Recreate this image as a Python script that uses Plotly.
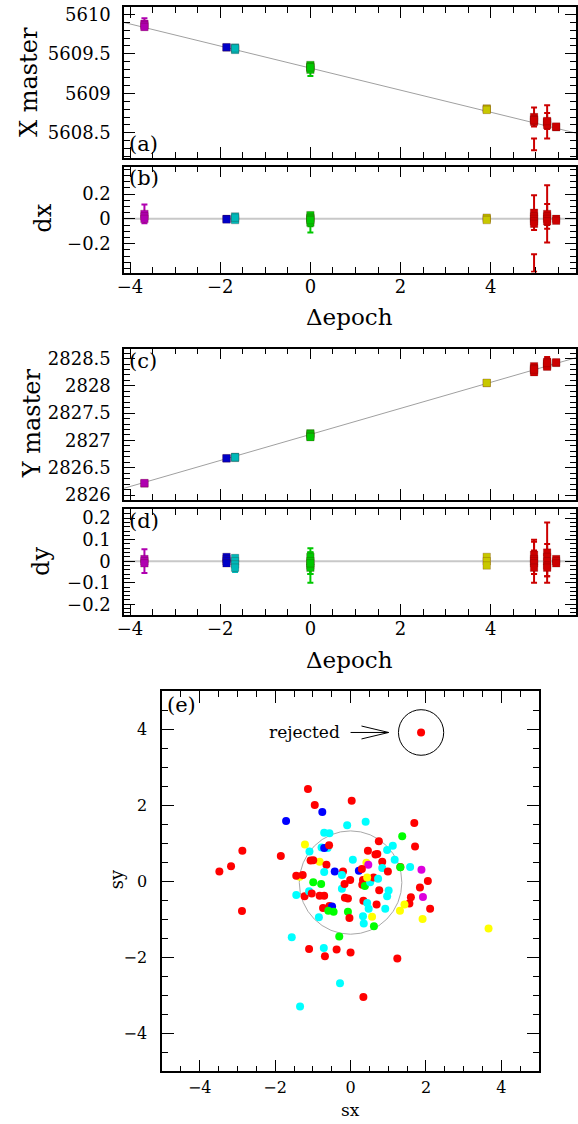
import plotly.graph_objects as go

W, H = 578, 1124
FONT = "DejaVu Serif"

# ---------------- data: panels (a)-(d) ----------------
group_color = ["mag", "blue", "cyan", "green", "yellow", "red", "red", "red"]
group_epoch = [-3.68, -1.86, -1.67, 0.0, 3.91, 4.96, 5.25, 5.45]

# (a) X master
a_val = [[5609.88, 5609.86, 5609.84],
         [5609.58, 5609.585],
         [5609.58, 5609.565, 5609.55, 5609.57],
         [5609.36, 5609.34, 5609.32, 5609.30, 5609.33],
         [5608.81, 5608.80, 5608.79],
         [5608.70, 5608.67, 5608.64, 5608.66],
         [5608.64, 5608.63, 5608.60, 5608.65],
         [5608.57, 5608.58]]
a_err = [[0.07, 0.03, 0.02],
         [0.01, 0.01],
         [0.015, 0.02, 0.015, 0.01],
         [0.02, 0.02, 0.03, 0.08, 0.04],
         [0.01, 0.015, 0.01],
         [0.12, 0.03, 0.03, 0.05],
         [0.21, 0.04, 0.03, 0.10],
         [0.01, 0.01]]
a_bar_epoch = [4.96]
a_bar_val = [5608.355]
a_bar_err = [0.075]
a_fit = (5609.32, -0.1397)   # intercept, slope

# (b) dx
b_val = [[0.04, 0.02, 0.0],
         [0.0, -0.005],
         [0.02, 0.0, -0.01, 0.01],
         [0.03, 0.01, 0.0, -0.03, -0.01],
         [0.01, 0.0, -0.01],
         [0.05, 0.02, 0.0, -0.02, -0.04],
         [0.04, 0.02, 0.0, -0.02],
         [0.0, -0.015]]
b_err = [[0.075, 0.02, 0.02],
         [0.01, 0.01],
         [0.015, 0.02, 0.01, 0.01],
         [0.015, 0.02, 0.02, 0.08, 0.05],
         [0.01, 0.015, 0.01],
         [0.14, 0.04, 0.03, 0.02, 0.02],
         [0.23, 0.10, 0.05, 0.02],
         [0.01, 0.01]]
b_bar_epoch = [4.96]
b_bar_val = [-0.355]
b_bar_err = [0.07]

# (c) Y master
c_val = [[2826.21, 2826.22],
         [2826.67, 2826.675],
         [2826.70, 2826.68, 2826.69],
         [2827.13, 2827.11, 2827.08, 2827.06],
         [2828.05, 2828.055],
         [2828.36, 2828.32, 2828.28, 2828.25, 2828.30],
         [2828.44, 2828.40, 2828.37, 2828.35, 2828.42],
         [2828.42, 2828.43]]
c_err = [[0.01, 0.015],
         [0.01, 0.01],
         [0.01, 0.015, 0.01],
         [0.02, 0.03, 0.03, 0.02],
         [0.01, 0.01],
         [0.03, 0.04, 0.04, 0.03, 0.05],
         [0.09, 0.03, 0.03, 0.03, 0.05],
         [0.01, 0.01]]
c_fit = (2827.11, 0.2386)

# (d) dy
d_val = [[0.01, 0.0, -0.01],
         [0.02, 0.01, 0.0, -0.01],
         [0.015, 0.0, -0.015, -0.03],
         [0.02, 0.0, -0.02, -0.03, -0.01],
         [0.02, 0.0, -0.02],
         [0.03, 0.01, 0.0, -0.01, -0.03],
         [0.04, 0.02, 0.0, -0.02, -0.03],
         [0.01, 0.0, -0.01]]
d_err = [[0.01, 0.055, 0.01],
         [0.01, 0.01, 0.01, 0.01],
         [0.01, 0.01, 0.02, 0.02],
         [0.02, 0.04, 0.08, 0.03, 0.05],
         [0.01, 0.01, 0.01],
         [0.06, 0.04, 0.10, 0.05, 0.03],
         [0.14, 0.06, 0.04, 0.05, 0.04],
         [0.01, 0.015, 0.01]]

# ---------------- data: panel (e) ----------------
e_sx = [-0.95, 0.03, -0.75, -1.71, -0.09, 0.40, 1.69, -0.70, -0.56, 1.37,
        -2.87, -1.85, -3.17, -3.48, -2.88, -1.21, -1.09, -0.77, -0.61, -0.70,
        -0.57, 0.75, 0.46, 0.66, 0.71, 0.97, 1.12, 1.71, 1.17, 0.84,
        0.42, 0.47, 0.06, -0.82, -1.06, -0.99, -0.64, -0.70, -0.42, -0.20,
        -0.23, 0.22, 0.30, 0.84, 0.99, 1.32, 1.32, 1.58, 1.88, 2.05,
        1.84, 1.92, 1.60, 1.56, 2.11, 1.43, 1.31, 1.91, -1.35, -1.44,
        -1.27, -0.99, -0.78, -1.44, -1.22, -1.10, -1.03, -0.82, -0.70, -0.23,
        -0.16, -0.01, 0.33, 0.31, 0.38, 0.52, 0.61, 0.73, 0.44, 0.76,
        1.01, 0.97, -0.15, -0.07, 0.34, 0.44, 0.48, 0.69, 0.92, -0.73,
        -0.56, -0.49, -0.59, -0.45, -0.07, -0.03, -0.84, 0.33, 0.35, 0.57,
        0.62, -0.30, -1.56, -0.71, -1.10, -0.37, 0.00, -0.68, 1.24, -1.13,
        -0.28, 0.34, -1.34, 3.66]
e_sy = [2.01, 2.12, 1.83, 1.59, 1.48, 1.57, 1.54, 1.28, 1.27, 1.19,
        0.81, 0.67, 0.40, 0.26, -0.78, 0.97, 0.79, 0.89, 0.88, 0.88,
        0.95, 1.06, 0.81, 0.71, 0.72, 0.83, 0.94, 0.92, 0.57, 0.52,
        0.49, 0.44, 0.57, 0.52, 0.55, 0.56, 0.44, 0.25, 0.26, 0.26,
        0.17, 0.28, 0.33, 0.35, 0.26, 0.38, 0.37, 0.38, 0.31, 0.01,
        -0.16, -0.41, -0.42, -0.58, -0.72, -0.61, -0.77, -0.99, 0.12, 0.15,
        0.17, -0.02, -0.07, -0.36, -0.39, -0.26, -0.32, -0.38, -0.38, -0.19,
        -0.07, 0.04, 0.04, -0.09, -0.12, -0.02, 0.10, 0.07, 0.10, -0.23,
        -0.24, -0.39, -0.43, -0.45, -0.51, -0.57, -0.72, -0.61, -0.72, -0.70,
        -0.65, -0.66, -0.77, -0.80, -0.80, -0.96, -0.94, -0.92, -1.11, -0.93,
        -1.18, -1.45, -1.47, -1.75, -1.78, -1.79, -1.87, -1.97, -2.03, 2.43,
        -2.68, -3.04, -3.29, -1.24]
e_col = ["red", "red", "blue", "blue", "cyan", "cyan", "red", "cyan", "cyan", "green",
         "red", "red", "red", "red", "red", "yellow", "cyan", "cyan", "cyan", "blue",
         "red", "red", "red", "red", "red", "cyan", "cyan", "red", "cyan", "red",
         "yellow", "mag", "cyan", "yellow", "red", "red", "red", "cyan", "blue", "red",
         "cyan", "blue", "red", "cyan", "red", "red", "green", "cyan", "mag", "red",
         "red", "mag", "red", "red", "red", "yellow", "yellow", "yellow", "yellow", "red",
         "red", "green", "green", "cyan", "red", "cyan", "red", "red", "red", "cyan",
         "red", "red", "red", "red", "green", "cyan", "red", "cyan", "yellow", "red",
         "cyan", "cyan", "red", "red", "red", "cyan", "cyan", "red", "cyan", "red",
         "red", "blue", "green", "green", "green", "red", "cyan", "cyan", "cyan", "yellow",
         "green", "green", "cyan", "cyan", "red", "red", "red", "red", "red", "red",
         "cyan", "red", "cyan", "yellow"]
rejected_sx = [1.87]
rejected_sy = [3.92]
clip_center = (0.0, -0.03)
clip_radius = 1.36
reject_radius = 0.6

COL_DARK = {"mag": "#b000b0", "blue": "#0000c8", "cyan": "#00b8b8",
            "green": "#00c800", "yellow": "#c8c800", "red": "#cc0000"}
COL_E = {"red": "#ff0000", "cyan": "#00ffff", "green": "#00ff00",
         "yellow": "#ffff00", "blue": "#0000ff", "mag": "#dd00dd"}

# ---------------- layout helpers ----------------
def ydom(top_px, bot_px):
    return [1 - bot_px / H, 1 - top_px / H]

def px_x(p):
    return p / W

def px_y(p):
    return 1 - p / H

XR = [-4.13, 5.89]

fig = go.Figure()

def add_panel(vals, errs, xa, ya):
    for g, (col, ep) in enumerate(zip(group_color, group_epoch)):
        fig.add_trace(go.Scatter(
            x=[ep] * len(vals[g]), y=vals[g], mode="markers",
            marker=dict(symbol="square", size=7.5, color=COL_DARK[col],
                        line=dict(width=0.6, color="rgba(80,0,0,0.35)")),
            error_y=dict(type="data", array=errs[g], color=COL_DARK[col],
                         thickness=2, width=3),
            xaxis=xa, yaxis=ya, showlegend=False, hoverinfo="skip"))

def add_bar(ep, val, err, xa, ya):
    fig.add_trace(go.Scatter(
        x=ep, y=val, mode="markers",
        marker=dict(size=2, color="rgba(0,0,0,0)"),
        error_y=dict(type="data", array=err, color=COL_DARK["red"],
                     thickness=2, width=3),
        xaxis=xa, yaxis=ya, showlegend=False, hoverinfo="skip"))

# fit lines
fig.add_trace(go.Scatter(x=XR, y=[a_fit[0] + a_fit[1] * XR[0], a_fit[0] + a_fit[1] * XR[1]],
                         mode="lines", line=dict(color="#a0a0a0", width=1),
                         xaxis="x", yaxis="y", showlegend=False, hoverinfo="skip"))
fig.add_trace(go.Scatter(x=XR, y=[0, 0], mode="lines", line=dict(color="#c8c8c8", width=2),
                         xaxis="x2", yaxis="y2", showlegend=False, hoverinfo="skip"))
fig.add_trace(go.Scatter(x=XR, y=[c_fit[0] + c_fit[1] * XR[0], c_fit[0] + c_fit[1] * XR[1]],
                         mode="lines", line=dict(color="#a0a0a0", width=1),
                         xaxis="x3", yaxis="y3", showlegend=False, hoverinfo="skip"))
fig.add_trace(go.Scatter(x=XR, y=[0, 0], mode="lines", line=dict(color="#c8c8c8", width=2),
                         xaxis="x4", yaxis="y4", showlegend=False, hoverinfo="skip"))

add_panel(a_val, a_err, "x", "y")
add_bar(a_bar_epoch, a_bar_val, a_bar_err, "x", "y")
add_panel(b_val, b_err, "x2", "y2")
add_bar(b_bar_epoch, b_bar_val, b_bar_err, "x2", "y2")
add_panel(c_val, c_err, "x3", "y3")
add_panel(d_val, d_err, "x4", "y4")

# panel e points
fig.add_trace(go.Scatter(x=e_sx, y=e_sy, mode="markers",
                         marker=dict(size=8, color=[COL_E[c] for c in e_col], line=dict(width=0)),
                         xaxis="x5", yaxis="y5", showlegend=False, hoverinfo="skip"))
fig.add_trace(go.Scatter(x=rejected_sx, y=rejected_sy, mode="markers",
                         marker=dict(size=8, color=COL_E["red"], line=dict(width=0)),
                         xaxis="x5", yaxis="y5", showlegend=False, hoverinfo="skip"))

def axis_style(**kw):
    d = dict(showline=True, linecolor="black", linewidth=1.5, mirror="allticks",
             ticks="inside", ticklen=11, tickwidth=1.2, tickcolor="black",
             showgrid=False, zeroline=False, ticklabelstandoff=8,
             tickfont=dict(family=FONT, size=18, color="black"))
    d.update(kw)
    return d

xdom = [px_x(119), 1.0]
minor_x = dict(ticks="inside", ticklen=6, tickwidth=1, tickcolor="black", dtick=0.5, tick0=0)

layout = dict(
    width=W, height=H, margin=dict(l=0, r=0, t=0, b=0),
    paper_bgcolor="white", plot_bgcolor="white", showlegend=False,
    xaxis=axis_style(domain=xdom, range=XR, anchor="y", dtick=2, tick0=0,
                     showticklabels=False, minor=minor_x),
    yaxis=axis_style(domain=ydom(3.3, 155), range=[5608.185, 5610.09], anchor="x",
                     dtick=0.5, tick0=0, tickformat=".1~f",
                     minor=dict(ticks="inside", ticklen=6, tickwidth=1, tickcolor="black", dtick=0.1, tick0=0)),
    xaxis2=axis_style(domain=xdom, range=XR, anchor="y2", dtick=2, tick0=0, minor=minor_x,
                      ticklabelstandoff=-3),
    yaxis2=axis_style(domain=ydom(164, 270.7), range=[-0.432, 0.42], anchor="x2",
                      tickvals=[-0.2, 0, 0.2],
                      minor=dict(ticks="inside", ticklen=6, tickwidth=1, tickcolor="black", dtick=0.05, tick0=0)),
    xaxis3=axis_style(domain=xdom, range=XR, anchor="y3", dtick=2, tick0=0,
                      showticklabels=False, minor=minor_x),
    yaxis3=axis_style(domain=ydom(347.5, 500), range=[2825.909, 2828.68], anchor="x3",
                      dtick=0.5, tick0=0, tickformat=".1~f",
                      minor=dict(ticks="inside", ticklen=6, tickwidth=1, tickcolor="black", dtick=0.1, tick0=0)),
    xaxis4=axis_style(domain=xdom, range=XR, anchor="y4", dtick=2, tick0=0, minor=minor_x,
                      ticklabelstandoff=-3),
    yaxis4=axis_style(domain=ydom(509, 615.5), range=[-0.248, 0.243], anchor="x4",
                      dtick=0.1, tick0=0,
                      minor=dict(ticks="inside", ticklen=6, tickwidth=1, tickcolor="black", dtick=0.02, tick0=0)),
    xaxis5=axis_style(domain=[px_x(157.5), px_x(540.5)], range=[-5, 5], anchor="y5",
                      dtick=2, tick0=0, ticklen=12, ticklabelstandoff=1,
                      tickfont=dict(family=FONT, size=16, color="black"),
                      minor=dict(ticks="inside", ticklen=6, tickwidth=1, tickcolor="black", dtick=0.5, tick0=0)),
    yaxis5=axis_style(domain=ydom(693, 1076), range=[-5, 5], anchor="x5",
                      dtick=2, tick0=0, ticklen=12, ticklabelstandoff=10,
                      tickfont=dict(family=FONT, size=16, color="black"),
                      minor=dict(ticks="inside", ticklen=6, tickwidth=1, tickcolor="black", dtick=0.5, tick0=0)),
)
fig.update_layout(**layout)

# ---------------- text labels ----------------
def txt(text, xp, yp, size, angle=0, xanchor="center"):
    fig.add_annotation(text=text, x=px_x(xp), y=px_y(yp), xref="paper", yref="paper",
                       showarrow=False, textangle=angle, xanchor=xanchor, yanchor="middle",
                       font=dict(family=FONT, size=size, color="black"))

txt("X master", 23, 79, 24, angle=-90)
txt("dx", 37, 216, 24, angle=-90)
txt("Y master", 25, 423, 24, angle=-90)
txt("dy", 34, 562, 24, angle=-90)
txt("Δepoch", 348, 316, 23)
txt("Δepoch", 348, 661, 23)
txt("sy", 112, 882, 18, angle=-90)
txt("sx", 349, 1115, 17)
txt("(a)", 122, 141, 21, xanchor="left")
txt("(b)", 122, 175, 21, xanchor="left")
txt("(c)", 122, 360, 21, xanchor="left")
txt("(d)", 122, 521, 21, xanchor="left")
txt("(e)", 160, 707, 21, xanchor="left")

# rejected annotation in data coords of panel e
fig.add_annotation(text="rejected", x=-0.23, y=rejected_sy[0], xref="x5", yref="y5",
                   showarrow=False, xanchor="right", yanchor="middle",
                   font=dict(family=FONT, size=17, color="black"))
ax0, ax1 = 0.0, 1.01
ay = rejected_sy[0]
fig.add_shape(type="line", x0=ax0, y0=ay, x1=ax1, y1=ay, xref="x5", yref="y5",
              line=dict(color="black", width=1))
fig.add_shape(type="line", x0=ax1 - 0.72, y0=ay + 0.17, x1=ax1, y1=ay, xref="x5", yref="y5",
              line=dict(color="black", width=1))
fig.add_shape(type="line", x0=ax1 - 0.72, y0=ay - 0.17, x1=ax1, y1=ay, xref="x5", yref="y5",
              line=dict(color="black", width=1))
fig.add_shape(type="circle", xref="x5", yref="y5",
              x0=rejected_sx[0] - reject_radius, x1=rejected_sx[0] + reject_radius,
              y0=rejected_sy[0] - reject_radius, y1=rejected_sy[0] + reject_radius,
              line=dict(color="black", width=1))
fig.add_shape(type="circle", xref="x5", yref="y5",
              x0=clip_center[0] - clip_radius, x1=clip_center[0] + clip_radius,
              y0=clip_center[1] - clip_radius, y1=clip_center[1] + clip_radius,
              line=dict(color="#a8a8a8", width=1), layer="below")

fig.write_html("out.html")
